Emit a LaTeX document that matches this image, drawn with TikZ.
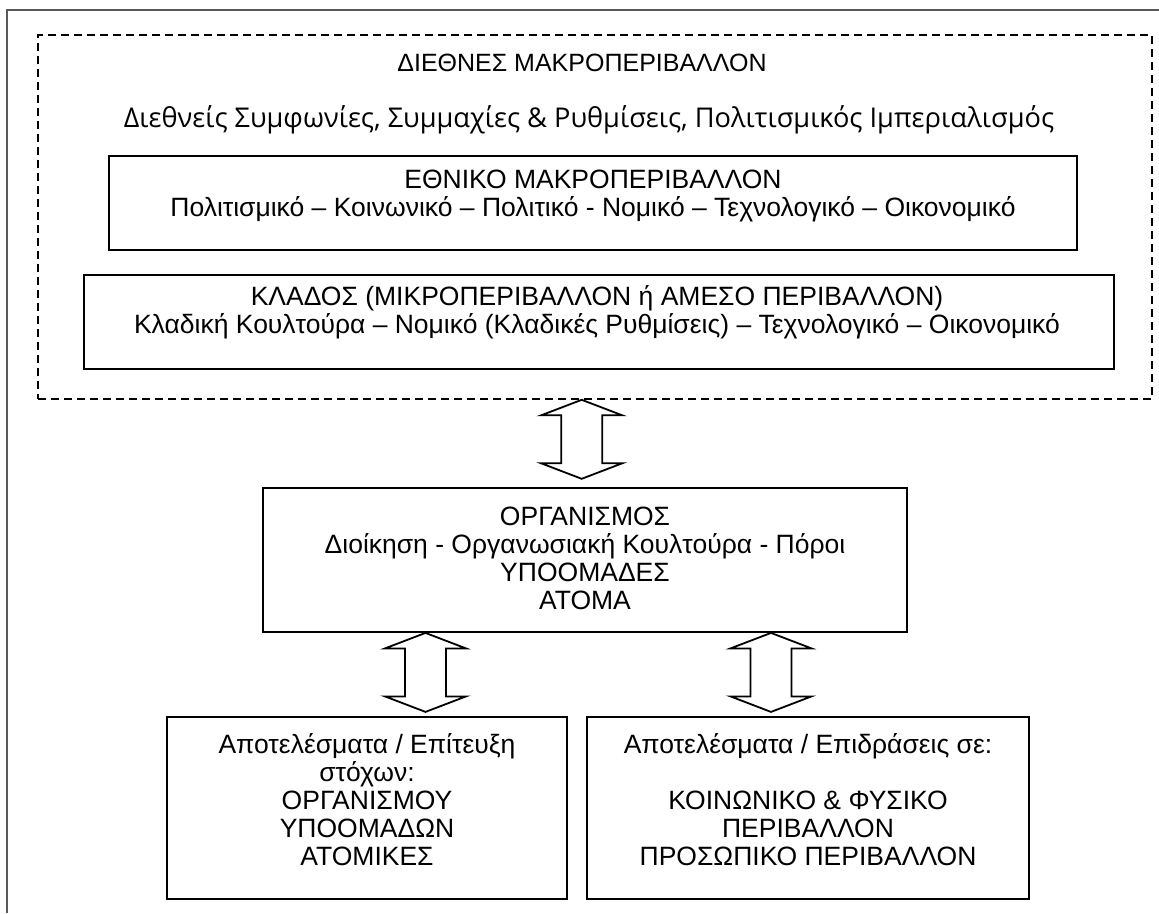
\documentclass[tikz,border=0pt]{standalone}
\usepackage{fontspec}
\setmainfont{Liberation Sans}
\newfontfamily\accordfont{Open Sans}
\usetikzlibrary{calc}

% two-way block arrow between a top tip and a bottom tip
\newcommand\twowayarrow[2]{%
  \draw[blockarrow] (#1) -- ++(40.5,15.5) -- ++(-20,0) -- ($(#2)+(20.5,-15.5)$)
    -- ++(20,0) -- (#2) -- ++(-40.5,-15.5) -- ++(20,0)
    -- ($(#1)+(-20.5,15.5)$) -- ++(-20,0) -- cycle;}

\begin{document}
\begin{tikzpicture}[x=1pt,y=-1pt,
  box/.style={draw=black, line width=1.8pt, inner sep=0pt},
  envbox/.style={draw=black, line width=1.6pt, dash pattern=on 8pt off 5pt, inner sep=0pt},
  txt/.style={align=center, font=\fontsize{26.5}{28}\selectfont, inner sep=0pt},
  blockarrow/.style={draw=black, line width=1.8pt, fill=white, line join=miter}
]
\useasboundingbox (0,0) rectangle (1159,913);
\fill[white] (0,0) rectangle (1159,913);

% page frame
\draw[color=black!65, line width=1.5pt] (7,913) -- (7,10) -- (1159,10);

% international environment (dashed)
\node[envbox, minimum width=1114pt, minimum height=364pt] (env) at (595,217) {};
\node[txt, font=\fontsize{25}{29}\selectfont] (envtitle) at (582,63) {ΔΙΕΘΝΕΣ ΜΑΚΡΟΠΕΡΙΒΑΛΛΟΝ};
\node[txt, font=\accordfont\fontsize{27.2}{31}\selectfont] (envsub) at (589,120)
  {Διεθνείς Συμφωνίες, Συμμαχίες \& Ρυθμίσεις, Πολιτισμικός Ιμπεριαλισμός};

% national environment
\node[box, minimum width=968pt, minimum height=94pt] (nat) at (593,203) {};
\node[txt] (nattext) at (593,196)
  {ΕΘΝΙΚΟ ΜΑΚΡΟΠΕΡΙΒΑΛΛΟΝ\\Πολιτισμικό – Κοινωνικό – Πολιτικό - Νομικό – Τεχνολογικό – Οικονομικό};

% sector
\node[box, minimum width=1030pt, minimum height=94pt] (sec) at (599,322) {};
\node[txt] (sectext) at (597,312)
  {ΚΛΑΔΟΣ (ΜΙΚΡΟΠΕΡΙΒΑΛΛΟΝ ή ΑΜΕΣΟ ΠΕΡΙΒΑΛΛΟΝ)\\Κλαδική Κουλτούρα – Νομικό (Κλαδικές Ρυθμίσεις) – Τεχνολογικό – Οικονομικό};

% organisation
\node[box, minimum width=644pt, minimum height=144pt] (org) at (585,560) {};
\node[txt] (orgtext) at (585,558)
  {ΟΡΓΑΝΙΣΜΟΣ\\Διοίκηση - Οργανωσιακή Κουλτούρα - Πόροι\\ΥΠΟΟΜΑΔΕΣ\\ΑΤΟΜΑ};

% outcomes
\node[box, minimum width=400pt, minimum height=182pt] (goals) at (367,808) {};
\node[txt] (goalstext) at (367,800)
  {Αποτελέσματα / Επίτευξη\\στόχων:\\ΟΡΓΑΝΙΣΜΟΥ\\ΥΠΟΟΜΑΔΩΝ\\ΑΤΟΜΙΚΕΣ};
\node[box, minimum width=442pt, minimum height=182pt] (effects) at (808,808) {};
\node[txt] (effectstext) at (808,800)
  {Αποτελέσματα / Επιδράσεις σε:\\\strut\\ΚΟΙΝΩΝΙΚΟ \& ΦΥΣΙΚΟ\\ΠΕΡΙΒΑΛΛΟΝ\\ΠΡΟΣΩΠΙΚΟ ΠΕΡΙΒΑΛΛΟΝ};

% two-way arrows
\path (581.7,0) coordinate (a1x) (425.5,0) coordinate (a2x) (771,0) coordinate (a3x);
\coordinate (a1t) at (a1x |- env.south);
\coordinate (a1b) at ($(a1t)+(0,79)$);
\coordinate (a2t) at (a2x |- org.south);
\coordinate (a2b) at ($(a2t)+(0,79)$);
\coordinate (a3t) at (a3x |- org.south);
\coordinate (a3b) at ($(a3t)+(0,79)$);
\twowayarrow{a1t}{a1b}
\twowayarrow{a2t}{a2b}
\twowayarrow{a3t}{a3b}
\end{tikzpicture}
\end{document}
